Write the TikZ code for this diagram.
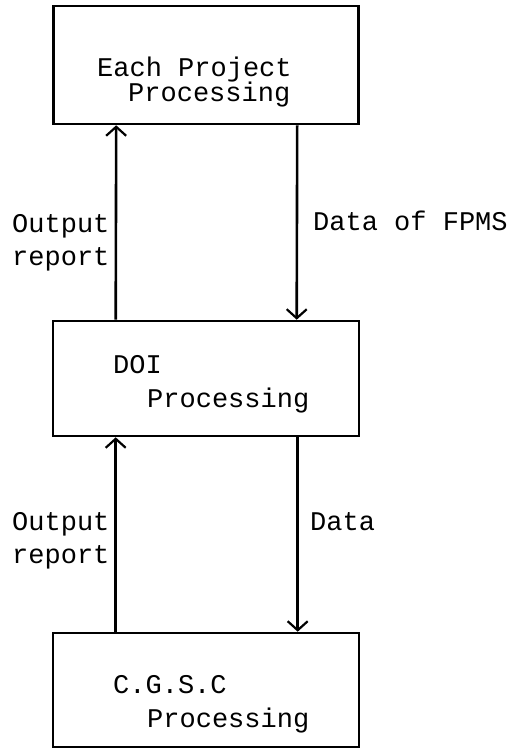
\documentclass[tikz,border=0pt]{standalone}
\usepackage{fontspec}
\setmonofont{Liberation Mono}
\usetikzlibrary{arrows.meta}
\tikzset{
  procbox/.style={draw, line width=2.6pt, rectangle, inner sep=0pt},
  txt/.style={font=\fontsize{27}{32}\selectfont\ttfamily, inner sep=0pt, anchor=base west},
  flow/.style={line width=2.6pt, -{Straight Barb[length=9pt, width=20pt, line width=2.2pt]}}
}
\begin{document}
\begin{tikzpicture}[x=1pt, y=-1pt]
\useasboundingbox (0,0) rectangle (522,750);

% processing boxes
\node[procbox, minimum width=305pt, minimum height=118pt] (b1) at (206,65) {};
\node[procbox, minimum width=306pt, minimum height=115pt] (b2) at (206,378.5) {};
\node[procbox, minimum width=306pt, minimum height=114pt] (b3) at (206,690) {};

% box texts
\node[txt] (t1a) at (97,76) {Each Project};
\node[txt] (t1b) at (128,101.5) {Processing};
\node[txt] (t2a) at (113,373) {DOI};
\node[txt] (t2b) at (147,407) {Processing};
\node[txt] (t3a) at (113,693) {C.G.S.C};
\node[txt] (t3b) at (147,727) {Processing};

% flows between the levels
\draw[flow] ([xshift=64pt]b2.north west) -- ([xshift=64pt]b1.south west);
\draw[flow] ([xshift=245pt]b1.south west) -- ([xshift=245pt]b2.north west);
\draw[flow] ([xshift=64pt]b3.north west) -- ([xshift=64pt]b2.south west);
\draw[flow] ([xshift=246pt]b2.south west) -- ([xshift=246pt]b3.north west);

% flow labels
\node[txt] (l1a) at (12,232) {Output};
\node[txt] (l1b) at (12,265) {report};
\node[txt] (l2) at (313,230) {Data of FPMS};
\node[txt] (l3a) at (12,530) {Output};
\node[txt] (l3b) at (12,563) {report};
\node[txt] (l4) at (310,530) {Data};
\end{tikzpicture}
\end{document}
